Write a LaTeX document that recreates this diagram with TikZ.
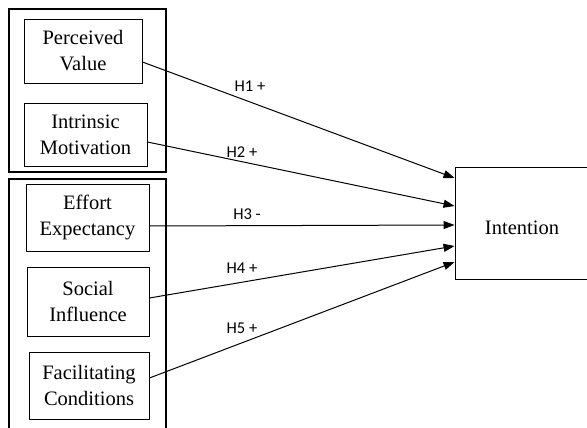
\documentclass[tikz,border=0pt]{standalone}
\usepackage{fontspec}
\setmainfont{Liberation Serif}
\newfontfamily\lblfont{Carlito}
\usetikzlibrary{arrows.meta}
\tikzset{
  x=1pt, y=-1pt,
  varbox/.style={draw, line width=0.9pt, align=center, inner sep=0pt,
    font=\fontsize{20.5}{26}\selectfont},
  vartext/.style={inner sep=0pt, font=\fontsize{20.5}{26}\selectfont},
  groupbox/.style={draw, line width=1.8pt, inner sep=0pt},
  hyp/.style={-{Triangle[length=11pt,width=8pt]}, line width=1pt},
  hlabel/.style={font=\lblfont\fontsize{16.5}{18}\selectfont, inner sep=0pt}
}
\begin{document}
\begin{tikzpicture}
\useasboundingbox (0,0) rectangle (587,428);
\clip (0,0) rectangle (587,428);
% group boxes
\node[groupbox, minimum width=157pt, minimum height=163pt] (g1) at (87.5,90.5) {};
\node[groupbox, minimum width=157pt, minimum height=261pt] (g2) at (87.5,309.5) {};
% variables
\node[varbox, minimum width=118pt, minimum height=64pt] (pv) at (83,51) {Perceived\\Value};
\node[varbox, minimum width=123pt, minimum height=63pt] (im) at (85.5,134.5) {Intrinsic\\Motivation};
\node[varbox, minimum width=123pt, minimum height=67pt] (ee) at (87.5,217.5) {Effort\\Expectancy};
\node[varbox, minimum width=122pt, minimum height=69pt] (si) at (88,301.5) {Social\\Influence};
\node[varbox, minimum width=120pt, minimum height=67pt] (fc) at (89,385.5) {Facilitating\\Conditions};
\node[varbox, minimum width=135pt, minimum height=112pt] (int) at (522.5,223) {};
\node[vartext] (intlabel) at (522,228) {Intention};
% arrows
\draw[hyp] ([yshift=-11pt]pv.east) -- ([yshift=45pt]int.west);
\draw[hyp] ([yshift=-7.5pt]im.east) -- ([yshift=17pt]int.west);
\draw[hyp] ([yshift=-8.5pt]ee.east) -- ([yshift=-2pt]int.west);
\draw[hyp] ([yshift=3.5pt]si.east) -- ([yshift=-23pt]int.west);
\draw[hyp] ([yshift=7.5pt]fc.east) -- ([yshift=-39pt]int.west);
% labels
\node[hlabel] (l1) at (250,86) {H1 +};
\node[hlabel] (l2) at (242,152) {H2 +};
\node[hlabel] (l3) at (247,214) {H3 -};
\node[hlabel] (l4) at (242,268) {H4 +};
\node[hlabel] (l5) at (242,328) {H5 +};
\end{tikzpicture}
\end{document}
